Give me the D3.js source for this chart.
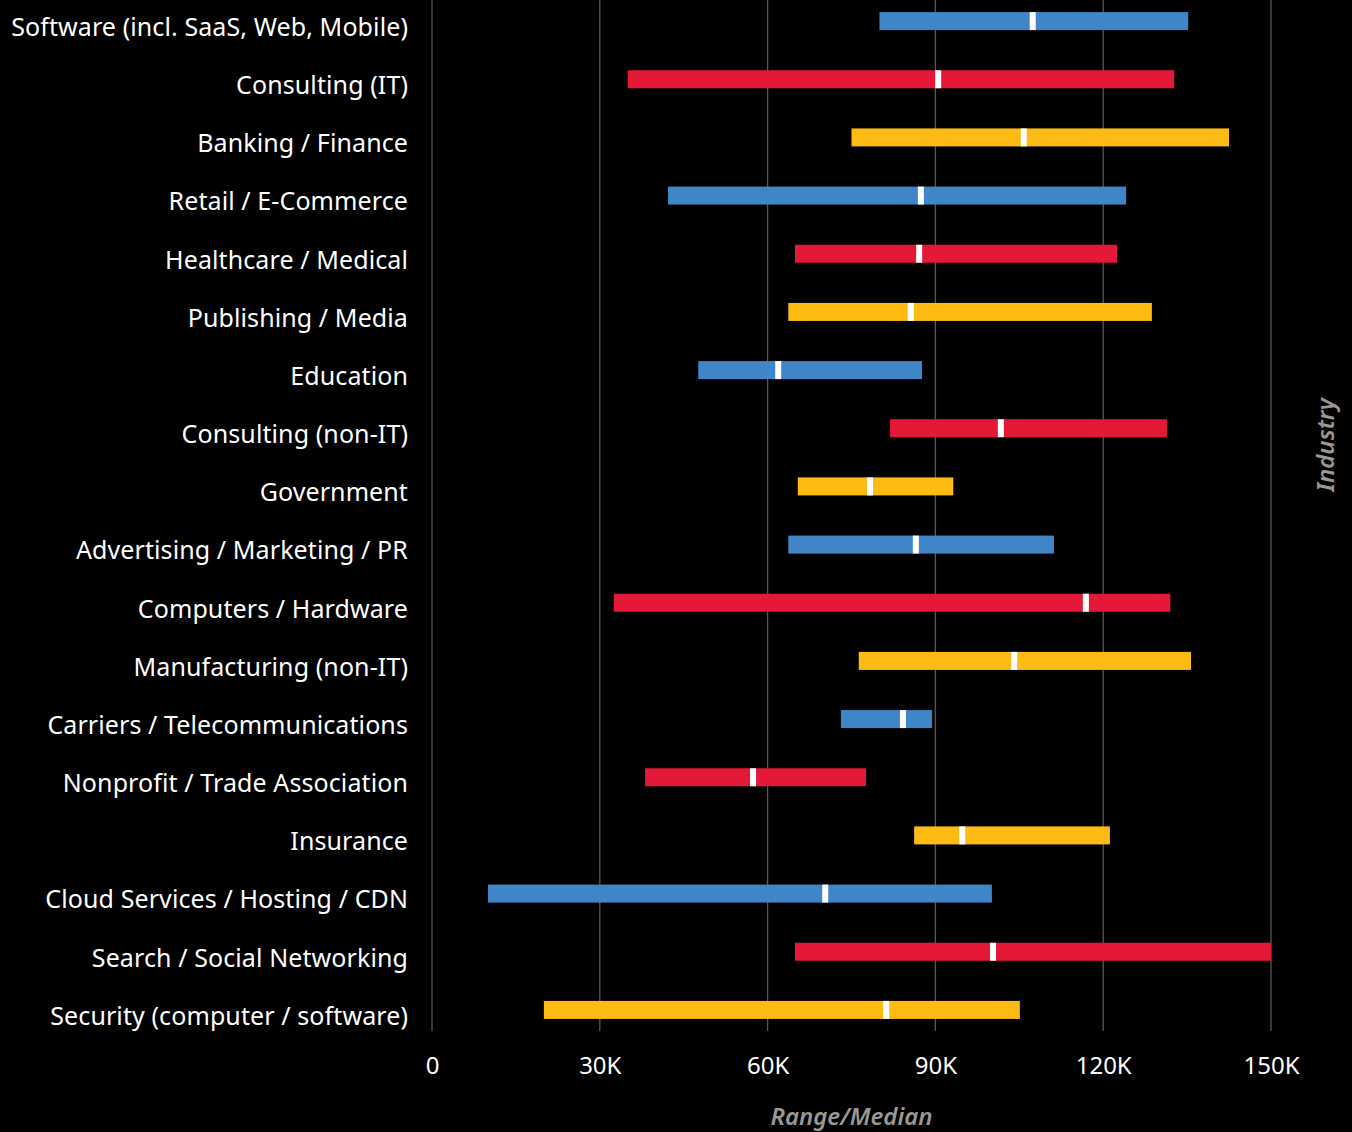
<!DOCTYPE html>
<html>
<head>
<meta charset="utf-8">
<script src="https://cdn.jsdelivr.net/npm/d3@7"></script>
<style>
  html, body { margin: 0; padding: 0; background: #000; }
  svg { display: block; }
</style>
</head>
<body>
<svg id="chart" width="1352" height="1132"></svg>
<script>
// Salary range (low / median / high) by industry
const industries = [
  "Software (incl. SaaS, Web, Mobile)",
  "Consulting (IT)",
  "Banking / Finance",
  "Retail / E-Commerce",
  "Healthcare / Medical",
  "Publishing / Media",
  "Education",
  "Consulting (non-IT)",
  "Government",
  "Advertising / Marketing / PR",
  "Computers / Hardware",
  "Manufacturing (non-IT)",
  "Carriers / Telecommunications",
  "Nonprofit / Trade Association",
  "Insurance",
  "Cloud Services / Hosting / CDN",
  "Search / Social Networking",
  "Security (computer / software)"
];
const lows    = [80000, 35000, 75000, 42200, 64900, 63700, 47600, 81900, 65400, 63700, 32500, 76300, 73100, 38100, 86200, 10000, 64900, 20000];
const medians = [107400, 90500, 105800, 87400, 87100, 85600, 61900, 101700, 78300, 86500, 116900, 104100, 84200, 57400, 94800, 70300, 100300, 81200];
const highs   = [135200, 132700, 142500, 124100, 122500, 128700, 87600, 131400, 93200, 111200, 132000, 135700, 89400, 77600, 121200, 100100, 150000, 105100];
const tickValues = [0, 30000, 60000, 90000, 120000, 150000];
const tickLabels = ["0", "30K", "60K", "90K", "120K", "150K"];
const palette = ["#3f85c8", "#e31937", "#fdbb13"];

const data = industries.map((name, i) => ({
  name, low: lows[i], median: medians[i], high: highs[i], color: palette[i % 3]
}));

const svg = d3.select("#chart");
const font = "'Noto Sans', 'Open Sans', sans-serif";

const x = d3.scaleLinear().domain([0, 150000]).range([432, 1271]);
const y = d3.scaleBand().domain(industries).range([-8, 1039]).paddingInner(0);
const barH = 18;

// vertical gridlines
svg.append("g")
  .selectAll("line")
  .data(tickValues)
  .join("line")
  .attr("x1", d => x(d)).attr("x2", d => x(d))
  .attr("y1", 0).attr("y2", 1031)
  .attr("stroke", "#5a5753").attr("stroke-width", 1.3);

// range bars
const rows = svg.append("g").selectAll("g").data(data).join("g")
  .attr("transform", d => `translate(0,${y(d.name) + y.bandwidth() / 2})`);

rows.append("rect")
  .attr("x", d => x(d.low))
  .attr("y", -barH / 2)
  .attr("width", d => x(d.high) - x(d.low))
  .attr("height", barH)
  .attr("fill", d => d.color);

// median markers
rows.append("rect")
  .attr("x", d => x(d.median) - 3)
  .attr("y", -barH / 2)
  .attr("width", 6)
  .attr("height", barH)
  .attr("fill", "#ffffff");

// category labels (sit slightly below the bar centre line)
rows.append("text")
  .attr("x", 408)
  .attr("y", 6)
  .attr("dy", "0.35em")
  .attr("text-anchor", "end")
  .attr("fill", "#ffffff")
  .style("font-family", font)
  .style("font-size", "25px")
  .style("letter-spacing", "0.1px")
  .text(d => d.name);

// x axis labels
const xAxis = d3.axisBottom(x)
  .tickValues(tickValues)
  .tickFormat((d, i) => tickLabels[i])
  .tickSize(0)
  .tickPadding(0);

const axisG = svg.append("g")
  .attr("transform", "translate(0,1057)")
  .call(xAxis);
axisG.select(".domain").remove();
axisG.selectAll("text")
  .attr("fill", "#ffffff")
  .attr("dy", "0.71em")
  .attr("y", 0)
  .style("font-family", font)
  .style("font-size", "24px");

// axis titles
svg.append("text")
  .attr("x", x(75000))
  .attr("y", 1125)
  .attr("text-anchor", "middle")
  .attr("fill", "#9a9794")
  .style("font-family", font)
  .style("font-size", "24px")
  .style("font-style", "italic")
  .style("font-weight", "600")
  .text("Range/Median");

svg.append("text")
  .attr("transform", "translate(1334,445) rotate(-90)")
  .attr("text-anchor", "middle")
  .attr("fill", "#9a9794")
  .style("font-family", font)
  .style("font-size", "24px")
  .style("font-style", "italic")
  .style("font-weight", "600")
  .text("Industry");
</script>
</body>
</html>
